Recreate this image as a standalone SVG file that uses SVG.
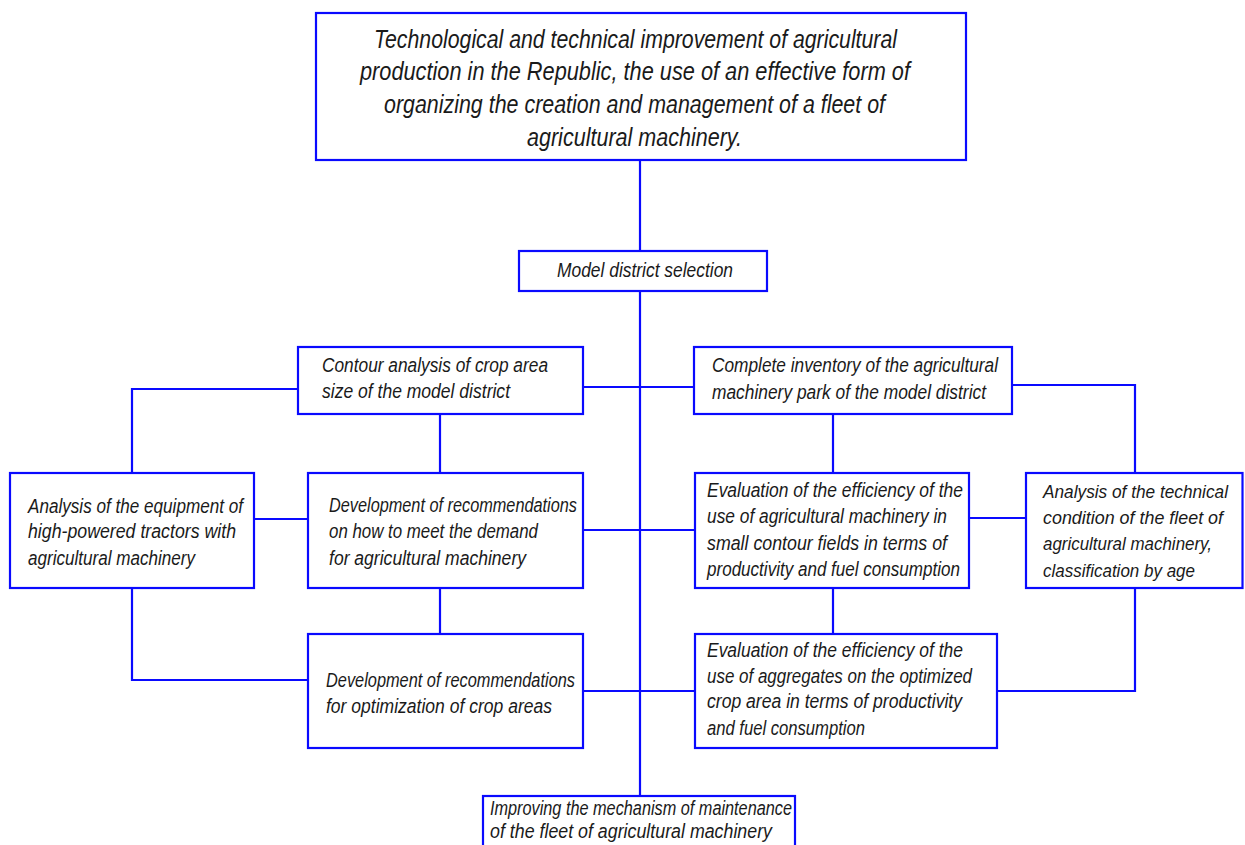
<svg xmlns="http://www.w3.org/2000/svg" width="1245" height="845" viewBox="0 0 1245 845">
<style>
.box{fill:#fff;stroke:#0a0aff;stroke-width:2.2}
.ln{fill:none;stroke:#0a0aff;stroke-width:2.2}
text{font-family:"Liberation Sans","DejaVu Sans",sans-serif;font-style:italic;fill:#1a1a1a}
.t{font-size:26px}
.b{font-size:20px}
.s{font-size:18.5px}
</style>
<rect width="1245" height="845" fill="#fff"/>
<g id="connectors">
<path class="ln" d="M640,160 V252"/>
<path class="ln" d="M640,290 V796"/>
<path class="ln" d="M583,387 H694"/>
<path class="ln" d="M298,389 H132 V473"/>
<path class="ln" d="M440,414 V473"/>
<path class="ln" d="M254,519 H308"/>
<path class="ln" d="M583,530 H695"/>
<path class="ln" d="M440,588 V634"/>
<path class="ln" d="M132,588 V680 H308"/>
<path class="ln" d="M583,691 H695"/>
<path class="ln" d="M1012,385 H1135 V473"/>
<path class="ln" d="M833,414 V473"/>
<path class="ln" d="M969,518 H1026"/>
<path class="ln" d="M833,588 V634"/>
<path class="ln" d="M1135,588 V691 H997"/>
</g>
<g id="n-top">
<rect class="box" x="316" y="13" width="650" height="147"/>
<text class="t" x="374" y="48" textLength="523" lengthAdjust="spacingAndGlyphs">Technological and technical improvement of agricultural</text>
<text class="t" x="360" y="80" textLength="550" lengthAdjust="spacingAndGlyphs">production in the Republic, the use of an effective form of</text>
<text class="t" x="384" y="113" textLength="501" lengthAdjust="spacingAndGlyphs">organizing the creation and management of a fleet of</text>
<text class="t" x="527" y="146" textLength="215" lengthAdjust="spacingAndGlyphs">agricultural machinery.</text>
</g>
<g id="n-model">
<rect class="box" x="519" y="251" width="248" height="40"/>
<text class="b" x="557" y="277" textLength="176" lengthAdjust="spacingAndGlyphs">Model district selection</text>
</g>
<g id="n-contour">
<rect class="box" x="298" y="347" width="285" height="67"/>
<text class="b" x="322" y="372" textLength="226" lengthAdjust="spacingAndGlyphs">Contour analysis of crop area</text>
<text class="b" x="322" y="398" textLength="188" lengthAdjust="spacingAndGlyphs">size of the model district</text>
</g>
<g id="n-inventory">
<rect class="box" x="694" y="347" width="318" height="67"/>
<text class="b" x="712" y="372" textLength="286" lengthAdjust="spacingAndGlyphs">Complete inventory of the agricultural</text>
<text class="b" x="712" y="399" textLength="274" lengthAdjust="spacingAndGlyphs">machinery park of the model district</text>
</g>
<g id="n-equipment">
<rect class="box" x="10" y="473" width="244" height="115"/>
<text class="b" x="28" y="513" textLength="215" lengthAdjust="spacingAndGlyphs">Analysis of the equipment of</text>
<text class="b" x="28" y="538" textLength="208" lengthAdjust="spacingAndGlyphs">high-powered tractors with</text>
<text class="b" x="28" y="565" textLength="167" lengthAdjust="spacingAndGlyphs">agricultural machinery</text>
</g>
<g id="n-demand">
<rect class="box" x="308" y="473" width="275" height="115"/>
<text class="b" x="329" y="512" textLength="248" lengthAdjust="spacingAndGlyphs">Development of recommendations</text>
<text class="b" x="329" y="538" textLength="209" lengthAdjust="spacingAndGlyphs">on how to meet the demand</text>
<text class="b" x="329" y="565" textLength="197" lengthAdjust="spacingAndGlyphs">for agricultural machinery</text>
</g>
<g id="n-eval-small">
<rect class="box" x="695" y="473" width="274" height="115"/>
<text class="b" x="707" y="497" textLength="256" lengthAdjust="spacingAndGlyphs">Evaluation of the efficiency of the</text>
<text class="b" x="707" y="523" textLength="240" lengthAdjust="spacingAndGlyphs">use of agricultural machinery in</text>
<text class="b" x="707" y="550" textLength="240" lengthAdjust="spacingAndGlyphs">small contour fields in terms of</text>
<text class="b" x="707" y="576" textLength="253" lengthAdjust="spacingAndGlyphs">productivity and fuel consumption</text>
</g>
<g id="n-technical">
<rect class="box" x="1026" y="473" width="216.5" height="115"/>
<text class="s" x="1043" y="498" textLength="185" lengthAdjust="spacingAndGlyphs">Analysis of the technical</text>
<text class="s" x="1043" y="524" textLength="180" lengthAdjust="spacingAndGlyphs">condition of the fleet of</text>
<text class="s" x="1043" y="550" textLength="169" lengthAdjust="spacingAndGlyphs">agricultural machinery,</text>
<text class="s" x="1043" y="577" textLength="152" lengthAdjust="spacingAndGlyphs">classification by age</text>
</g>
<g id="n-optimization">
<rect class="box" x="308" y="634" width="275" height="114"/>
<text class="b" x="326" y="687" textLength="249" lengthAdjust="spacingAndGlyphs">Development of recommendations</text>
<text class="b" x="326" y="713" textLength="226" lengthAdjust="spacingAndGlyphs">for optimization of crop areas</text>
</g>
<g id="n-eval-agg">
<rect class="box" x="695" y="634" width="302" height="114"/>
<text class="b" x="707" y="657" textLength="256" lengthAdjust="spacingAndGlyphs">Evaluation of the efficiency of the</text>
<text class="b" x="707" y="683" textLength="265" lengthAdjust="spacingAndGlyphs">use of aggregates on the optimized</text>
<text class="b" x="707" y="708" textLength="255" lengthAdjust="spacingAndGlyphs">crop area in terms of productivity</text>
<text class="b" x="707" y="735" textLength="158" lengthAdjust="spacingAndGlyphs">and fuel consumption</text>
</g>
<g id="n-maintenance">
<rect class="box" x="483" y="796" width="312" height="70"/>
<text class="b" x="490" y="815" textLength="302" lengthAdjust="spacingAndGlyphs">Improving the mechanism of maintenance</text>
<text class="b" x="490" y="838" textLength="282" lengthAdjust="spacingAndGlyphs">of the fleet of agricultural machinery</text>
</g>
</svg>
